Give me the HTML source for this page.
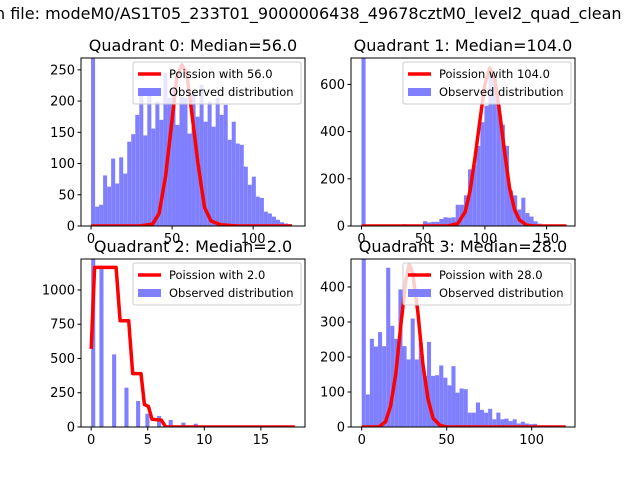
<!DOCTYPE html>
<html><head><meta charset="utf-8"><style>body{margin:0;background:#fff}svg{display:block;font-family:"DejaVu Sans","Liberation Sans",sans-serif}</style></head>
<body>
<svg id="chart" width="640" height="480" viewBox="0 0 640 480">
<rect width="640" height="480" fill="#fff"/>
<text x="-5" y="19" font-size="16">n file: modeM0/AS1T05_233T01_9000006438_49678cztM0_level2_quad_clean</text>
</svg>
<script>
// Quadrant 0
const q0Bins = [270,31,34,81,63,108,68,110,84,135,147,178,214,145,214,156,199,170,245,205,220,162,207,205,148,215,175,226,167,199,159,205,178,194,138,167,132,130,95,66,79,47,45,23,20,15,10,6,4,3];
const q0CurveX = [0,30,38,42,46,50,53,56,59,62,66,70,74,80,90,124];
const q0CurveY = [0,0,3,20,80,170,240,258,245,185,100,30,8,2,0,0];
const q0YTicks = [0,50,100,150,200,250];
const q0XTicks = [0,50,100];
// Quadrant 1
const q1Bins = [720,0,0,0,0,0,0,0,0,3,8,5,6,6,6,20,15,18,18,30,37,35,37,90,90,130,240,258,340,440,510,660,640,520,430,340,150,130,70,120,55,40,20,10,5,3,1,0,0,0];
const q1CurveX = [0,70,78,84,88,92,96,100,104,108,112,116,120,124,128,134,140,166];
const q1CurveY = [0,0,10,60,150,290,450,600,670,620,480,310,160,70,25,3,0,0];
const q1YTicks = [0,200,400,600];
const q1XTicks = [0,50,100,150];
// Quadrant 2 (integer-valued counts)
const q2BarX = [0,0.73,1.85,2.94,3.97,4.79,5.82,6.85,7.97,9.06];
const q2BarH = [1230,1170,530,287,190,97,80,51,32,24];
const q2CurveX = [0,0.3,2.2,2.56,3.32,3.67,4.4,4.7,5.06,5.38,6.2,6.6,18];
const q2CurveY = [570,1165,1165,775,775,390,390,165,150,56,50,0,0];
const q2YTicks = [0,250,500,750,1000];
const q2XTicks = [0,5,10,15];
// Quadrant 3
const q3Bins = [490,93,252,230,271,231,455,289,252,393,231,193,310,193,241,146,243,146,148,176,141,119,174,98,110,108,41,41,70,49,41,52,22,41,22,24,17,22,10,15,10,8,9,3,2,1,1,0,0,0];
const q3CurveX = [0,10,14,17,20,23,26,28,30,33,36,39,42,46,50,120];
const q3CurveY = [0,0,15,60,150,290,420,465,440,330,180,80,25,5,0,0];
const q3YTicks = [0,100,200,300,400];
const q3XTicks = [0,50,100];

const NS='http://www.w3.org/2000/svg';
const svg=document.getElementById('chart');
function mk(tag,attrs,parent){const e=document.createElementNS(NS,tag);for(const k in attrs)e.setAttribute(k,attrs[k]);(parent||svg).appendChild(e);return e;}

function panel(cfg){
  const {L,T,R,B,xmin,xmax,ymax,title,label,id}=cfg;
  const sx=v=>L+(v-xmin)/(xmax-xmin)*(R-L);
  const sy=v=>B-v/ymax*(B-T);
  const g=mk('g',{});
  
  
  const cp=mk('clipPath',{id:id+'clip'},g);
  mk('rect',{x:L,y:T,width:R-L,height:B-T},cp);
  const plot=mk('g',{'clip-path':'url(#'+id+'clip)'},g);
  cfg.bars.forEach(b=>{
    const r=mk('rect',{x:sx(b[0]),y:sy(b[2]),width:Math.max(0,sx(b[1])-sx(b[0])),height:Math.max(0,B-sy(b[2])),fill:'#8080ff'},plot);
    
    
  });
  const pts=cfg.cx.map((x,i)=>sx(x).toFixed(1)+','+sy(cfg.cy[i]).toFixed(1)).join(' ');
  const pl=mk('polyline',{points:pts,fill:'none',stroke:'#ff0000','stroke-width':3.5,'stroke-linejoin':'round'},plot);
  
  
  const fr=mk('rect',{x:L,y:T,width:R-L,height:B-T,fill:'none',stroke:'#000','stroke-width':1},g);
  
  
  cfg.yt.forEach(v=>{
    const y=sy(v);
    mk('line',{x1:L-3.5,x2:L,y1:y,y2:y,stroke:'#000'},g);
    const t=mk('text',{x:L-6,y:y+4.5,'font-size':13,'text-anchor':'end'},g);t.textContent=v;
    
    
  });
  cfg.xt.forEach(v=>{
    const x=sx(v);
    mk('line',{x1:x,x2:x,y1:B,y2:B+3.5,stroke:'#000'},g);
    const t=mk('text',{x:x,y:B+17,'font-size':13,'text-anchor':'middle'},g);t.textContent=v;
    
    
  });
  const tt=mk('text',{x:(L+R)/2,y:T-7,'font-size':16,'text-anchor':'middle'},g);tt.textContent=title;
  
  
  const lg=mk('g',{},g);
  
  
  const lx=R-172,ly=T+4;
  mk('rect',{x:lx,y:ly,width:168,height:42,rx:2,fill:'#fff','fill-opacity':0.8,stroke:'#ccc','stroke-width':1},lg);
  mk('line',{x1:lx+5,x2:lx+28,y1:ly+12,y2:ly+12,stroke:'#ff0000','stroke-width':3.5},lg);
  const l1=mk('text',{x:lx+36,y:ly+16,'font-size':11.5},lg);l1.textContent=label;
  mk('rect',{x:lx+5,y:ly+26,width:23,height:8,fill:'#8080ff'},lg);
  const l2=mk('text',{x:lx+36,y:ly+34,'font-size':11.5},lg);l2.textContent='Observed distribution';
}
function histBars(vals,lo,hi){const w=(hi-lo)/vals.length;return vals.map((v,i)=>[lo+i*w,lo+(i+1)*w,v]);}

panel({id:'q0',L:81,T:58,R:305,B:226,xmin:-6.2,xmax:132,ymax:269,title:'Quadrant 0: Median=56.0',label:'Poission with 56.0',
  bars:histBars(q0Bins,0,124),cx:q0CurveX,cy:q0CurveY,yt:q0YTicks,xt:q0XTicks});
panel({id:'q1',L:351,T:58,R:575,B:226,xmin:-8.5,xmax:173,ymax:712,title:'Quadrant 1: Median=104.0',label:'Poission with 104.0',
  bars:histBars(q1Bins,0,166),cx:q1CurveX,cy:q1CurveY,yt:q1YTicks,xt:q1XTicks});
panel({id:'q2',L:81,T:259,R:305,B:427,xmin:-0.9,xmax:18.9,ymax:1226,title:'Quadrant 2: Median=2.0',label:'Poission with 2.0',
  bars:q2BarX.map((x,i)=>[x,x+0.36,q2BarH[i]]),cx:q2CurveX,cy:q2CurveY,yt:q2YTicks,xt:q2XTicks});
panel({id:'q3',L:351,T:259,R:575,B:427,xmin:-6.3,xmax:125.5,ymax:480,title:'Quadrant 3: Median=28.0',label:'Poission with 28.0',
  bars:histBars(q3Bins,0,120),cx:q3CurveX,cy:q3CurveY,yt:q3YTicks,xt:q3XTicks});
</script>
</body></html>
